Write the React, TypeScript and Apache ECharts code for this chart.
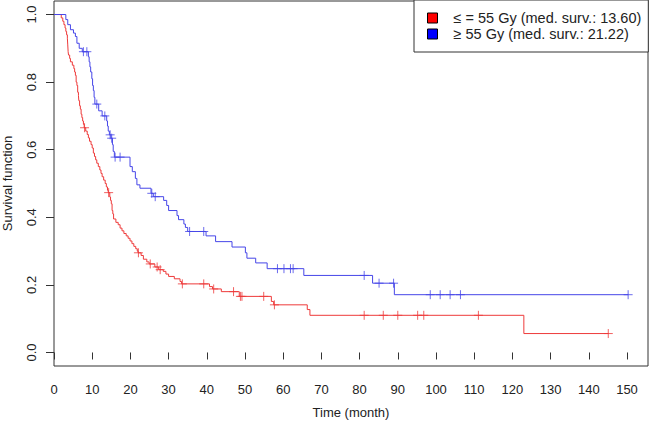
import React, { useEffect, useRef } from "react";
import * as echarts from "echarts";

// Kaplan-Meier step points [time (months), survival]
const lowDoseCurve: [number, number][] = [
  [0, 1], [1.9, 0.99], [2.3, 0.98], [2.6, 0.97], [2.9, 0.96], [3.1, 0.95], [3.3, 0.94], [3.5, 0.93],
  [3.6, 0.91], [3.7, 0.89], [3.8, 0.88], [4.1, 0.87], [4.3, 0.86], [4.8, 0.85], [5.2, 0.84], [5.4, 0.83],
  [5.6, 0.82], [5.8, 0.8], [6.0, 0.79], [6.2, 0.77], [6.4, 0.76], [6.5, 0.745], [6.7, 0.73], [6.9, 0.72],
  [7.1, 0.705], [7.3, 0.695], [7.5, 0.685], [7.7, 0.675], [7.9, 0.665], [8.3, 0.655], [8.7, 0.645],
  [9.0, 0.635], [9.3, 0.625], [9.7, 0.615], [10.0, 0.605], [10.3, 0.59], [10.6, 0.58], [10.9, 0.57],
  [11.2, 0.56], [11.6, 0.55], [12.0, 0.54], [12.3, 0.53], [12.6, 0.52], [13.0, 0.51], [13.4, 0.5],
  [13.7, 0.49], [14.0, 0.48], [14.2, 0.473], [14.6, 0.46], [14.8, 0.45], [15.0, 0.44], [15.2, 0.42],
  [15.4, 0.41], [15.6, 0.395], [16.2, 0.385], [16.8, 0.378], [17.3, 0.368], [17.8, 0.36], [18.3, 0.352],
  [18.9, 0.345], [19.4, 0.338], [19.9, 0.33], [20.4, 0.322], [20.9, 0.314], [21.4, 0.307], [21.8, 0.3],
  [22.0, 0.295], [22.8, 0.287], [23.4, 0.276], [24.3, 0.268], [24.9, 0.262], [26.4, 0.253], [27.4, 0.245],
  [28.6, 0.24], [29.3, 0.232], [30.0, 0.225], [31.5, 0.218], [33.0, 0.21], [33.4, 0.203], [40.7, 0.195],
  [41.5, 0.188], [43.8, 0.18], [48.5, 0.166], [56.9, 0.151], [57.5, 0.141], [66.3, 0.127], [67.0, 0.11],
  [123.0, 0.056], [145.1, 0.056],
];
const lowDoseCensor: number[] = [
  8.0, 14.3, 22.1, 25.2, 27.0, 27.8, 33.6, 39.2, 41.8, 47.0, 48.8, 49.2, 54.9, 57.7,
  81.2, 86.2, 90.0, 95.2, 96.8, 111.1, 145.1,
];

const highDoseCurve: [number, number][] = [
  [0, 1], [3.1, 0.985], [3.6, 0.97], [4.3, 0.955], [5.1, 0.945], [5.6, 0.935], [6.0, 0.915], [6.6, 0.9],
  [7.4, 0.89], [9.0, 0.875], [9.2, 0.86], [9.4, 0.845], [9.6, 0.83], [9.9, 0.81], [10.1, 0.79],
  [10.3, 0.775], [10.5, 0.755], [10.7, 0.735], [11.7, 0.715], [12.6, 0.7], [13.8, 0.685], [14.0, 0.67],
  [14.2, 0.655], [14.5, 0.644], [14.9, 0.634], [15.3, 0.615], [15.5, 0.595], [15.8, 0.578], [19.9, 0.55],
  [20.5, 0.535], [21.3, 0.515], [21.7, 0.496], [22.5, 0.486], [25.4, 0.471], [26.0, 0.461], [28.7, 0.45],
  [29.5, 0.435], [30.0, 0.42], [32.2, 0.405], [32.6, 0.393], [34.0, 0.38], [34.4, 0.37], [35.0, 0.358],
  [39.8, 0.345], [42.3, 0.328], [46.6, 0.312], [50.1, 0.295], [50.5, 0.279], [52.8, 0.265], [55.8, 0.248],
  [65.4, 0.228], [83.4, 0.205], [89.1, 0.171], [150.3, 0.171],
];
const highDoseCensor: number[] = [
  7.7, 8.6, 11.2, 13.3, 14.7, 15.1, 16.0, 17.3, 25.6, 26.5, 35.5, 39.2, 58.5, 60.2, 61.9, 62.6,
  81.2, 85.1, 88.9, 98.5, 101.1, 103.7, 106.4, 150.3,
];

const xTicks = [0, 10, 20, 30, 40, 50, 60, 70, 80, 90, 100, 110, 120, 130, 140, 150];
const yTicks = [0, 0.2, 0.4, 0.6, 0.8, 1.0];
const lowName = "≤ = 55 Gy (med. surv.: 13.60)";
const highName = "≥ 55 Gy (med. surv.: 21.22)";

function survAt(curve: [number, number][], t: number): number {
  let s = curve[0][1];
  for (const [ct, cs] of curve) {
    if (ct <= t) s = cs;
    else break;
  }
  return s;
}

const FONT = "Liberation Sans, Arial, sans-serif";
const PLUS = "path://M0,5L10,5M5,0L5,10";

export default function App() {
  const ref = useRef<HTMLDivElement>(null);
  useEffect(() => {
    if (!ref.current) return;
    const chart = echarts.init(ref.current, undefined, { renderer: "svg" });
    const redLine = "#ee3a3a";
    const blueLine = "#4646e8";
    chart.setOption({
      animation: false,
      backgroundColor: "#ffffff",
      textStyle: { fontFamily: FONT },
      grid: {
        left: 54, top: 1, width: 594, height: 365,
        show: true, borderColor: "#333", borderWidth: 1,
        containLabel: false, outerBoundsMode: "none",
      },
      legend: {
        orient: "vertical",
        left: 414, top: 0,
        padding: [10, 7, 10, 13],
        itemGap: 0,
        itemWidth: 10, itemHeight: 10,
        icon: "rect",
        borderColor: "#333", borderWidth: 1,
        backgroundColor: "#fff",
        textStyle: { fontFamily: FONT, fontSize: 14.5, color: "#222", lineHeight: 16, padding: [0, 0, 0, 11] },
        data: [
          { name: lowName, itemStyle: { color: "#ff0000", borderColor: "#000", borderWidth: 1 } },
          { name: highName, itemStyle: { color: "#0000ff", borderColor: "#000", borderWidth: 1 } },
        ],
        selectedMode: false,
      },
      xAxis: {
        type: "value", min: 0, max: 155.5,
        name: "Time (month)", nameLocation: "middle", nameGap: 40,
        nameTextStyle: { fontFamily: FONT, fontSize: 13, color: "#222" },
        axisLine: { show: false },
        axisTick: { show: true, inside: false, length: 7, customValues: xTicks, lineStyle: { color: "#333" } },
        axisLabel: {
          show: true, customValues: xTicks, margin: 17, fontFamily: FONT, fontSize: 13, color: "#222",
        },
        splitLine: { show: false },
      },
      yAxis: {
        type: "value", min: -0.04, max: 1.04,
        name: "Survival function", nameLocation: "middle", nameGap: 40, nameRotate: 90,
        nameTextStyle: { fontFamily: FONT, fontSize: 13, color: "#222" },
        axisLine: { show: false },
        axisTick: { show: true, inside: false, length: 8, customValues: yTicks, lineStyle: { color: "#333" } },
        axisLabel: {
          show: true, customValues: yTicks, rotate: 90, margin: 16, fontFamily: FONT, fontSize: 13, color: "#222",
          formatter: (v: number) => v.toFixed(1),
        },
        splitLine: { show: false },
      },
      series: [
        {
          name: lowName, type: "line", step: "end", data: lowDoseCurve,
          showSymbol: false, symbol: "none", color: redLine,
          lineStyle: { color: redLine, width: 1 }, z: 2,
        },
        {
          name: highName, type: "line", step: "end", data: highDoseCurve,
          showSymbol: false, symbol: "none", color: blueLine,
          lineStyle: { color: blueLine, width: 1 }, z: 2,
        },
        {
          name: "lowCensor", type: "scatter", symbol: PLUS, symbolSize: 9, silent: true, z: 3,
          data: lowDoseCensor.map((t) => [t, survAt(lowDoseCurve, t)]),
          itemStyle: { color: "rgba(0,0,0,0)", borderColor: redLine, borderWidth: 1 },
        },
        {
          name: "highCensor", type: "scatter", symbol: PLUS, symbolSize: 9, silent: true, z: 3,
          data: highDoseCensor.map((t) => [t, survAt(highDoseCurve, t)]),
          itemStyle: { color: "rgba(0,0,0,0)", borderColor: blueLine, borderWidth: 1 },
        },
      ],
    });
    return () => chart.dispose();
  }, []);
  return (
    <div
      ref={ref}
      style={{ position: "absolute", left: 0, top: 0, width: 650, height: 423, background: "#fff" }}
    />
  );
}
